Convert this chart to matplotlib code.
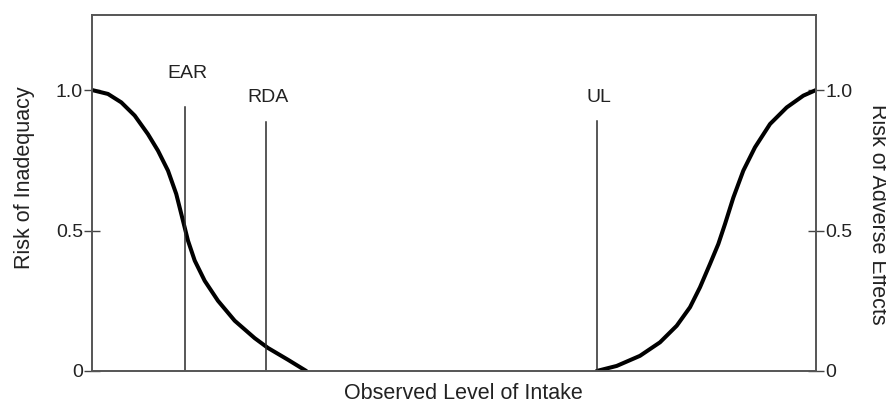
import matplotlib
matplotlib.use("Agg")
import matplotlib.pyplot as plt

plt.rcParams["font.family"] = ["Liberation Sans", "DejaVu Sans"]

# intake scale runs 0..100 across the plot
inadequacy_x = [0, 2.21, 4.05, 5.90, 7.73, 9.12, 10.50, 11.64, 12.57, 13.26,
                14.19, 15.57, 17.40, 19.71, 22.47, 24.31, 27.07, 29.6]
inadequacy_y = [1.0, 0.986, 0.956, 0.909, 0.843, 0.784, 0.713, 0.630, 0.535,
                0.464, 0.393, 0.321, 0.250, 0.179, 0.117, 0.082, 0.040, 0.0]

adverse_x = [69.71, 72.47, 75.69, 78.45, 80.76, 82.60, 83.98, 85.36, 86.51,
             87.43, 88.58, 89.96, 91.57, 93.65, 95.95, 98.25, 100.0]
adverse_y = [0.0, 0.018, 0.054, 0.102, 0.161, 0.227, 0.298, 0.381, 0.452,
             0.523, 0.617, 0.713, 0.796, 0.879, 0.938, 0.980, 1.0]

ref_names = ["EAR", "RDA", "UL"]
ref_x = [12.85, 24.0, 69.75]
ref_top = [0.938, 0.886, 0.89]
ref_label_y = [1.06, 0.975, 0.975]

yticks = [0, 0.5, 1.0]
ytick_labels = ["0", "0.5", "1.0"]

fig = plt.figure(figsize=(8.86, 4.13), dpi=100)
ax = fig.add_axes([0.1038, 0.1017, 0.8172, 0.862])

ax.plot(inadequacy_x, inadequacy_y, color="black", lw=2.9,
        solid_capstyle="round", solid_joinstyle="round")
ax.plot(adverse_x, adverse_y, color="black", lw=2.9,
        solid_capstyle="round", solid_joinstyle="round")

for name, x, top, ly in zip(ref_names, ref_x, ref_top, ref_label_y):
    ax.plot([x, x], [0, top], color="#2a2a2a", lw=1.1)
    ax.text(x + 0.3, ly, name, ha="center", va="center", fontsize=14,
            color="#222222")

ax.set_xlim(0, 100)
ax.set_ylim(0, 1.267)
ax.set_xticks([])
ax.set_yticks(yticks)
ax.set_yticklabels(ytick_labels)
ax.tick_params(axis="y", direction="inout", length=11, width=1.0,
               color="#444444", labelsize=14, labelcolor="#222222", pad=1,
               right=True, labelright=True)
for sp in ax.spines.values():
    sp.set_color("#555555")
    sp.set_linewidth(1.4)

fig.text(0.523, 0.048, "Observed Level of Intake", ha="center", va="center",
         fontsize=15.5, color="#222222")
fig.text(0.028, 0.569, "Risk of Inadequacy", ha="center", va="center",
         rotation=90, fontsize=15.5, color="#222222")
fig.text(0.99, 0.482, "Risk of Adverse Effects", ha="center", va="center",
         rotation=270, fontsize=15.5, color="#222222")

fig.savefig("out.png", dpi=100)
